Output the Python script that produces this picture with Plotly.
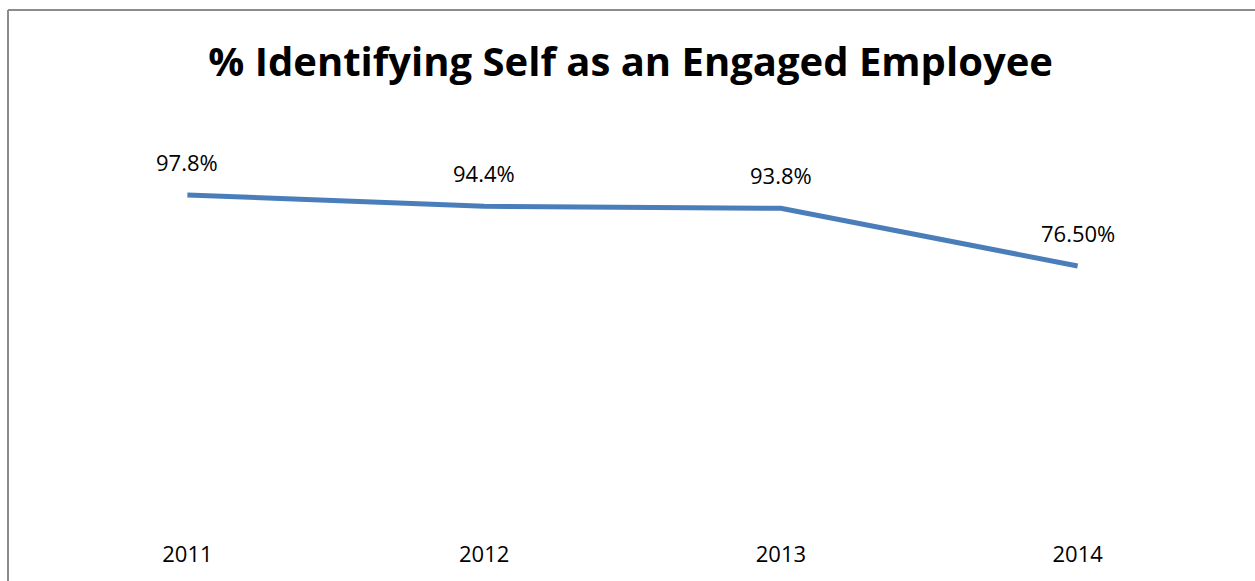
import plotly.graph_objects as go

# Survey years and share of staff identifying as engaged
years = ["2011", "2012", "2013", "2014"]
engaged_pct = [97.8, 94.4, 93.8, 76.5]
point_labels = ["97.8%", "94.4%", "93.8%", "76.50%"]

title_text = "% Identifying Self as an Engaged Employee"
line_color = "#4a7ebb"
font_family = "Open Sans, Liberation Sans, sans-serif"

W, H = 1255, 581
margin = dict(l=39, r=29, t=121, b=60)
plot_w = W - margin["l"] - margin["r"]
plot_h = H - margin["t"] - margin["b"]

fig = go.Figure()
fig.add_trace(go.Scatter(
    x=years,
    y=engaged_pct,
    mode="lines",
    line=dict(color=line_color, width=5),
    hoverinfo="skip",
    showlegend=False,
))

# Value labels above each point (category index positions on the x axis)
for idx, (val, lab) in enumerate(zip(engaged_pct, point_labels)):
    fig.add_annotation(
        x=idx, y=val, xref="x", yref="y", text=lab, showarrow=False,
        yshift=33, font=dict(family=font_family, size=22, color="#000000"),
    )

# Chart frame (extends past the right and bottom edges of the page)
frame_left = (8 - margin["l"]) / plot_w
frame_top = (H - margin["b"] - 10) / plot_h
fig.add_shape(type="line", xref="paper", yref="paper",
              x0=frame_left, x1=frame_left, y0=-0.5, y1=frame_top,
              line=dict(color="#8c8c8c", width=2))
fig.add_shape(type="line", xref="paper", yref="paper",
              x0=frame_left, x1=1.2, y0=frame_top, y1=frame_top,
              line=dict(color="#8c8c8c", width=2))

fig.update_layout(
    width=W, height=H,
    margin=margin,
    paper_bgcolor="white",
    plot_bgcolor="white",
    title=dict(
        text=title_text,
        x=0.5025, xanchor="center",
        y=1 - 62 / H, yanchor="middle", yref="container",
        font=dict(family=font_family, size=40, color="#000000", weight="bold"),
    ),
    xaxis=dict(
        type="category",
        range=[-0.5, 3.5],
        showgrid=False, zeroline=False, showline=False,
        ticks="", ticklabelstandoff=18,
        tickfont=dict(family=font_family, size=22, color="#000000"),
    ),
    yaxis=dict(
        range=[0, 120],
        visible=False,
        showgrid=False, zeroline=False,
    ),
)

fig.write_html("out.html")
